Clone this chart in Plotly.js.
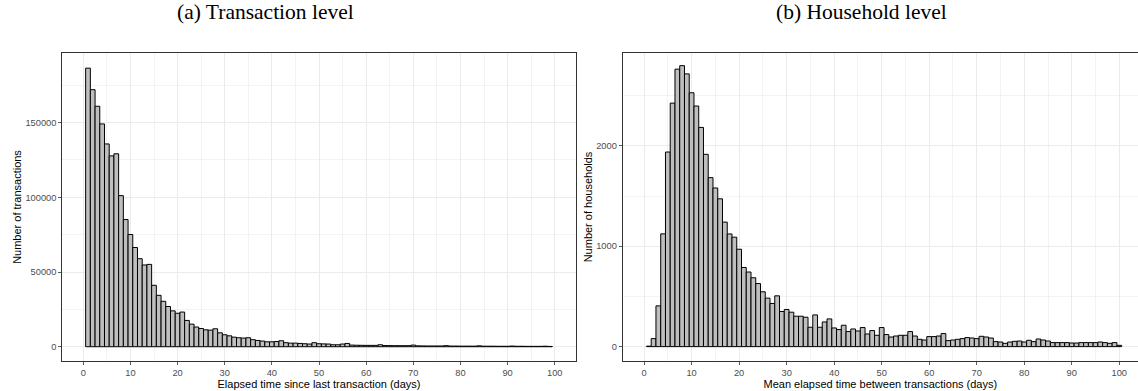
<!DOCTYPE html>
<html>
<head>
<meta charset="utf-8">
<script src="https://cdn.plot.ly/plotly-3.0.1.min.js"></script>
<style>html,body{margin:0;padding:0;background:#fff;}#chart{width:1138px;height:391px;}</style>
</head>
<body>
<div id="chart"></div>
<script>
// Panel (a): elapsed days since last transaction, days 1..99
const daysA = Array.from({length: 99}, (_, i) => i + 1);
const transactions = [
  186400,172000,160900,149100,135700,127700,129100,101100,85100,75100,
  66400,58900,54700,55100,41100,34400,30400,26900,24000,22400,
  23200,17600,15100,13200,12200,11300,11100,12000,9300,8000,
  7300,6400,6000,5800,6000,4700,4200,3800,3300,3300,
  3500,4000,2700,2400,2400,2200,2000,1800,2700,2000,
  1900,1800,1300,1300,1800,2200,1100,1000,950,900,
  900,900,1300,800,750,700,700,700,700,1100,
  600,550,500,500,500,500,700,450,450,400,
  400,400,400,600,350,350,350,300,300,300,
  450,300,300,250,250,250,250,350,200
];
// Panel (b): mean elapsed days between transactions, days 1..100
const daysB = Array.from({length: 100}, (_, i) => i + 1);
const households = [
  5,80,406,1123,1938,2425,2763,2798,2716,2528,
  2396,2183,1915,1683,1580,1472,1240,1122,1090,970,
  788,743,686,628,546,483,430,506,350,370,
  343,303,303,293,193,316,193,246,276,186,
  170,213,150,176,156,190,126,160,113,190,
  120,96,106,113,113,150,106,73,66,100,
  100,106,130,60,66,73,80,90,86,80,
  103,96,86,50,46,33,46,53,56,46,
  63,50,76,66,56,40,40,40,40,36,
  36,40,40,40,40,46,40,33,40,13
];
const panelTitles = ["(a) Transaction level", "(b) Household level"];
const xTitles = ["Elapsed time since last transaction (days)", "Mean elapsed time between transactions (days)"];
const yTitles = ["Number of transactions", "Number of households"];

const W = 1138, H = 391;
const px = v => v / W;
const py = v => (H - v) / H;

const barStyle = {
  type: 'bar', width: 1,
  marker: {color: '#BEBEBE', line: {color: '#000000', width: 1}},
  hoverinfo: 'x+y', showlegend: false
};

const traces = [
  Object.assign({}, barStyle, {x: daysA, y: transactions, xaxis: 'x', yaxis: 'y'}),
  Object.assign({}, barStyle, {x: daysB, y: households, xaxis: 'x2', yaxis: 'y2'})
];

const tickFont = {family: 'Liberation Sans, Arial, sans-serif', size: 9.3, color: '#4D4D4D'};
const titleFont = {family: 'Liberation Sans, Arial, sans-serif', size: 11, color: '#000000'};
const gridCol = '#EBEBEB';

function xAxis(domain, range, title) {
  return {
    domain: domain, range: range, tickmode: 'linear', tick0: 0, dtick: 10,
    showgrid: true, gridcolor: gridCol, gridwidth: 1,
    minor: {dtick: 5, tick0: 0, showgrid: true, gridcolor: gridCol, gridwidth: 0.6, ticks: ''},
    ticks: 'outside', ticklen: 3, tickwidth: 0.8, tickcolor: '#333333',
    tickfont: tickFont, zeroline: false,
    showline: true, linecolor: '#333333', linewidth: 1, mirror: true,
    title: {text: title, font: titleFont, standoff: 2},
    fixedrange: true
  };
}
function yAxis(domain, range, dtick, title, anchor, mirror) {
  return {
    domain: domain, range: range, anchor: anchor, tickmode: 'linear', tick0: 0, dtick: dtick,
    tickformat: 'd',
    showgrid: true, gridcolor: gridCol, gridwidth: 1,
    minor: {dtick: dtick / 2, tick0: 0, showgrid: true, gridcolor: gridCol, gridwidth: 0.6, ticks: ''},
    ticks: 'outside', ticklen: 3, tickwidth: 0.8, tickcolor: '#333333',
    tickfont: tickFont, zeroline: false,
    showline: true, linecolor: '#333333', linewidth: 1, mirror: mirror,
    title: {text: title, font: titleFont, standoff: 1},
    fixedrange: true
  };
}

const yDom = [py(360.7), py(53.3)];

const layout = {
  width: W, height: H,
  margin: {l: 0, r: 0, t: 0, b: 0},
  paper_bgcolor: '#ffffff', plot_bgcolor: '#ffffff',
  bargap: 0, showlegend: false,
  xaxis: Object.assign(xAxis([px(62.3), px(575.7)], [-4.45, 104.45], xTitles[0]), {anchor: 'y'}),
  yaxis: yAxis(yDom, [-9350, 196350], 50000, yTitles[0], 'x', true),
  xaxis2: Object.assign(xAxis([px(622.7), 1], [-4.5, 103.94], xTitles[1]), {anchor: 'y2', mirror: true}),
  yaxis2: yAxis(yDom, [-140, 2921], 1000, yTitles[1], 'x2', false),
  annotations: [
    {text: panelTitles[0], xref: 'paper', yref: 'paper', x: px(265), y: py(12), xanchor: 'center', yanchor: 'middle',
     showarrow: false, font: {family: 'Liberation Serif, Times New Roman, serif', size: 21.5, color: '#000'}},
    {text: panelTitles[1], xref: 'paper', yref: 'paper', x: px(861), y: py(12), xanchor: 'center', yanchor: 'middle',
     showarrow: false, font: {family: 'Liberation Serif, Times New Roman, serif', size: 21.5, color: '#000'}}
  ]
};

Plotly.newPlot('chart', traces, layout, {displayModeBar: false, staticPlot: true});
</script>
</body>
</html>
